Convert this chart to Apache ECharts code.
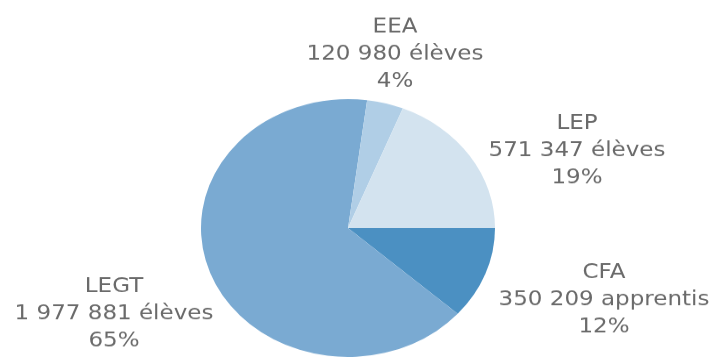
<!DOCTYPE html>
<html>
<head>
<meta charset="utf-8">
<script src="https://cdn.jsdelivr.net/npm/echarts@6/dist/echarts.min.js"></script>
<style>
  html, body { margin: 0; padding: 0; background: #fff; }
  #wrap { width: 717px; height: 358px; overflow: hidden; position: relative; }
  /* the source pie is slightly squashed vertically, so the whole canvas is scaled */
  #chart { width: 717px; height: 408px; transform: scaleY(0.877); transform-origin: 0 0; }
</style>
</head>
<body>
<div id="wrap"><div id="chart"></div></div>
<script>
// data (order: clockwise from 3 o'clock)
const categories = ['CFA', 'LEGT', 'EEA', 'LEP'];
const values = [350209, 1977881, 120980, 571347];
const units = ['apprentis', 'élèves', 'élèves', 'élèves'];
const colors = ['#4b90c2', '#7aaad2', '#b0cee6', '#d3e3ef'];

// label block centres (x, y in the unscaled canvas)
const labelPos = [[604, 342], [114, 358], [395, 62], [577, 172]];

function fmt(v) {
    return String(v).replace(/\B(?=(\d{3})+(?!\d))/g, ' ');
}

let myChart = echarts.init(document.getElementById('chart'));
let option = {
    animation: false,
    series: [
        {
            type: 'pie',
            center: [348, 260],
            radius: 147,
            startAngle: 0,
            clockwise: true,
            data: categories.map((c, i) => ({
                name: c,
                value: values[i],
                itemStyle: { color: colors[i] }
            })),
            label: {
                show: true,
                fontFamily: 'DejaVu Sans',
                fontSize: 23,
                lineHeight: 31,
                color: '#6a6a6a',
                align: 'center',
                overflow: 'none',
                formatter: function(p) {
                    return p.name + '\n' + fmt(p.value) + ' ' + units[p.dataIndex] + '\n' + Math.round(p.percent) + '%';
                }
            },
            labelLine: { show: false },
            labelLayout: function(params) {
                let pos = labelPos[params.dataIndex];
                return { x: pos[0], y: pos[1], width: 300, align: 'center', verticalAlign: 'middle' };
            },
            emphasis: { disabled: true }
        }
    ]
};
myChart.setOption(option);
</script>
</body>
</html>
